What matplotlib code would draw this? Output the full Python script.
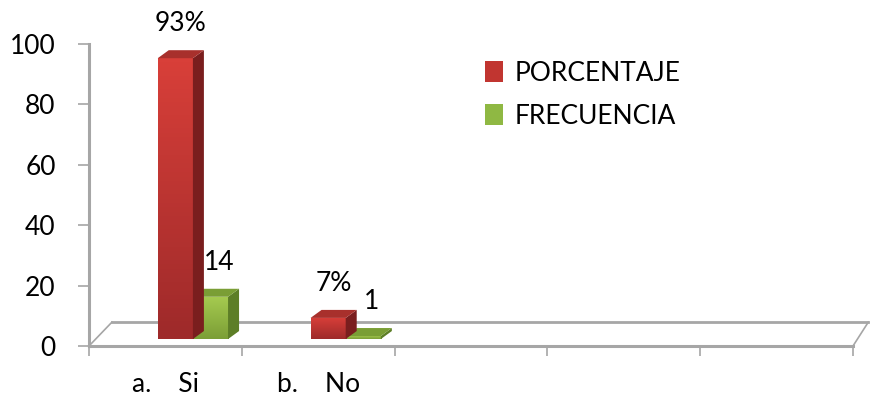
import numpy as np
import matplotlib.pyplot as plt
from matplotlib.patches import Polygon, Rectangle, Patch
from matplotlib.colors import LinearSegmentedColormap

plt.rcParams['font.family'] = ['Lato', 'DejaVu Sans']

# survey answers, one group per category
categories = ["a.    Si", "b.    No", "", "", ""]
porcentaje = [93, 7]
frecuencia = [14, 1]
pct_labels = ["93%", "7%"]
freq_labels = ["14", "1"]

# colours: front gradient (top, bottom), side, top face
RED = dict(front=("#d83f39", "#9e2a2a"), side="#7a1e1e", top="#a8302c")
GREEN = dict(front=("#a6cb50", "#7b9e36"), side="#5d7e27", top="#7a9e35")
GRID = "#a6a6a6"
FS = 19

# pseudo 3d settings (data units)
BASE = 2.3       # bars stand a little back on the floor
DX, DY = 0.072, 2.65
FLOOR_DY = 7.9
BAR_W = 0.23
BAR_X0 = 0.45

fig = plt.figure(figsize=(8.72, 4.09), dpi=100)
ax = fig.add_axes([89 / 872, 1 - 346 / 409, 764 / 872, 302 / 409])
ax.set_xlim(0, 5)
ax.set_ylim(0, 100)


def draw_bar(x, value, style):
    top = BASE + value
    # front face with vertical gradient
    cmap = LinearSegmentedColormap.from_list("g", [style["front"][1], style["front"][0]])
    grad = np.linspace(0, 1, 64).reshape(-1, 1)
    rect = Rectangle((x, BASE), BAR_W, value, facecolor="none", edgecolor="none")
    ax.add_patch(rect)
    im = ax.imshow(grad, cmap=cmap, origin="lower", aspect="auto",
                   extent=(x, x + BAR_W, BASE, top), zorder=3)
    im.set_clip_path(rect)
    # right side
    side = Polygon([(x + BAR_W, BASE), (x + BAR_W + DX, BASE + DY),
                    (x + BAR_W + DX, top + DY), (x + BAR_W, top)],
                   closed=True, facecolor=style["side"], edgecolor="none", zorder=3)
    ax.add_patch(side)
    # top face
    cap = Polygon([(x, top), (x + DX, top + DY), (x + BAR_W + DX, top + DY),
                   (x + BAR_W, top)],
                  closed=True, facecolor=style["top"], edgecolor="none", zorder=3)
    ax.add_patch(cap)
    return top + DY


# floor outline behind the bars
ax.plot([0.15, 5.1], [FLOOR_DY, FLOOR_DY], color=GRID, lw=2, clip_on=False, zorder=1)
ax.plot([0, 0.15], [0, FLOOR_DY], color=GRID, lw=1.2, clip_on=False, zorder=1)
ax.plot([5, 5.1], [0, FLOOR_DY], color=GRID, lw=1.2, clip_on=False, zorder=1)

for i in range(len(porcentaje)):
    xr = i + BAR_X0
    xg = xr + BAR_W
    # green first so the red side sits on top of it
    tg = draw_bar(xg, frecuencia[i], GREEN)
    tr = draw_bar(xr, porcentaje[i], RED)
    ax.annotate(pct_labels[i], (xr + (BAR_W + DX) / 2, tr), xytext=(0, 10),
                textcoords="offset points", ha="center", va="bottom",
                fontsize=FS, annotation_clip=False)
    ax.annotate(freq_labels[i], (xg + (BAR_W + DX) / 2, tg), xytext=(2, 10),
                textcoords="offset points", ha="center", va="bottom",
                fontsize=FS, annotation_clip=False)

# axes styling
for s in ("top", "right"):
    ax.spines[s].set_visible(False)
ax.spines["left"].set_color(GRID)
ax.spines["left"].set_linewidth(2.2)
ax.spines["bottom"].set_color(GRID)
ax.spines["bottom"].set_linewidth(2.2)
ax.set_facecolor("none")

ax.set_yticks(np.arange(0, 101, 20))
ax.tick_params(axis="y", colors=GRID, labelcolor="black", length=8, width=1.2,
               pad=16, labelsize=FS)
ax.set_xticks(np.arange(0, 6))
ax.set_xticklabels([])
ax.set_xticks(np.arange(len(categories)) + 0.5, minor=True)
ax.set_xticklabels(categories, minor=True)
ax.tick_params(axis="x", which="major", colors=GRID, length=7, width=1.2)
ax.tick_params(axis="x", which="minor", length=0, pad=19, labelsize=FS)

handles = [Patch(facecolor="#c13530", edgecolor="none"),
           Patch(facecolor="#8fb843", edgecolor="none")]
fig.legend(handles, ["PORCENTAJE", "FRECUENCIA"], loc="upper left",
           bbox_to_anchor=(461 / 872, 1 - 37 / 409), frameon=False,
           fontsize=FS, handlelength=0.7, handleheight=0.8,
           handletextpad=0.45, labelspacing=0.68)

fig.savefig("out.png", dpi=100)
